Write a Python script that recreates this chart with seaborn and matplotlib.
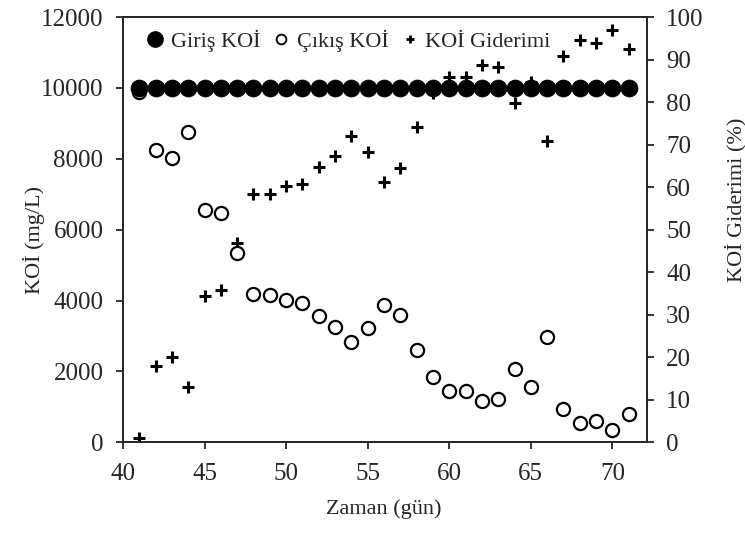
import numpy as np
import pandas as pd
import matplotlib
matplotlib.use("Agg")
import matplotlib.pyplot as plt
import seaborn as sns
from matplotlib.lines import Line2D

# Zaman (gün)
gun = list(range(41, 72))
# Giriş KOİ (mg/L)
giris_koi = [10000] * 31
# Çıkış KOİ (mg/L)
cikis_koi = [9900, 8250, 8030, 8760, 6560, 6470, 5350, 4180, 4160, 4010,
             3935, 3570, 3260, 2835, 3220, 3880, 3590, 2600, 1835, 1450,
             1450, 1160, 1215, 2060, 1555, 2965, 940, 545, 600, 340, 790]
# KOİ Giderimi (%)
giderim = [1.1, 17.9, 20.1, 12.9, 34.4, 35.8, 46.8, 58.5, 58.5, 60.2,
           60.7, 64.8, 67.4, 72.0, 68.3, 61.3, 64.5, 74.2, 82.2, 85.9,
           85.9, 88.7, 88.2, 79.7, 84.8, 70.8, 90.9, 94.7, 94.0, 96.9, 92.4]

df = pd.DataFrame({"gun": gun, "giris": giris_koi, "cikis": cikis_koi, "giderim": giderim})

sns.set_style("ticks")
plt.rcParams["font.family"] = ["Liberation Serif", "DejaVu Serif"]
plt.rcParams["axes.linewidth"] = 1.3

fig = plt.figure(figsize=(7.45, 5.36), dpi=100)
ax = fig.add_axes([0.165, 0.175, 0.703, 0.793])
ax2 = ax.twinx()

sns.scatterplot(data=df, x="gun", y="giderim", ax=ax2, marker="+", color="black",
                s=85, linewidth=2.2, legend=False)
sns.scatterplot(data=df, x="gun", y="cikis", ax=ax, marker="o", facecolor="white",
                edgecolor="black", s=90, linewidth=1.6, legend=False)
sns.scatterplot(data=df, x="gun", y="giris", ax=ax, marker="o", color="black",
                edgecolor="black", s=150, linewidth=0.5, legend=False)

# daireler artı işaretlerinin üstünde kalsın
ax.set_zorder(ax2.get_zorder() + 1)
ax.patch.set_visible(False)

ax.set_xlim(40, 72.1)
ax.set_ylim(0, 12000)
ax2.set_ylim(0, 100)
ax.set_xticks(range(40, 71, 5))
ax.set_yticks(range(0, 12001, 2000))
ax2.set_yticks(range(0, 101, 10))

ax.set_xlabel("Zaman (gün)", fontsize=16)
ax.set_ylabel("KOİ (mg/L)", fontsize=16)
ax2.set_ylabel("KOİ Giderimi (%)", fontsize=16)
ax.xaxis.set_label_coords(0.498, -0.135)
ax.yaxis.set_label_coords(-0.149, 0.475)
ax2.yaxis.set_label_coords(1.149, 0.57)

for a in (ax, ax2):
    a.tick_params(labelsize=18, direction="out", length=5, width=1.3)
    for sp in a.spines.values():
        sp.set_visible(True)
        sp.set_linewidth(1.3)
ax.tick_params(axis="x", pad=10)
ax.tick_params(axis="y", pad=9)
ax2.tick_params(axis="y", pad=9)

handles = [
    Line2D([], [], linestyle="none", marker="o", color="black", markersize=11),
    Line2D([], [], linestyle="none", marker="o", markerfacecolor="white",
           markeredgecolor="black", markeredgewidth=1.3, markersize=7),
    Line2D([], [], linestyle="none", marker="+", color="black",
           markeredgewidth=2, markersize=6),
]
ax.legend(handles, ["Giriş KOİ", "Çıkış KOİ", "KOİ Giderimi"], loc="upper left",
          ncol=3, frameon=False, fontsize=16, handletextpad=0.2, columnspacing=0.45,
          handlelength=1.0, borderaxespad=0.0, bbox_to_anchor=(0.023, 0.991))

fig.savefig("out.png", dpi=100)
